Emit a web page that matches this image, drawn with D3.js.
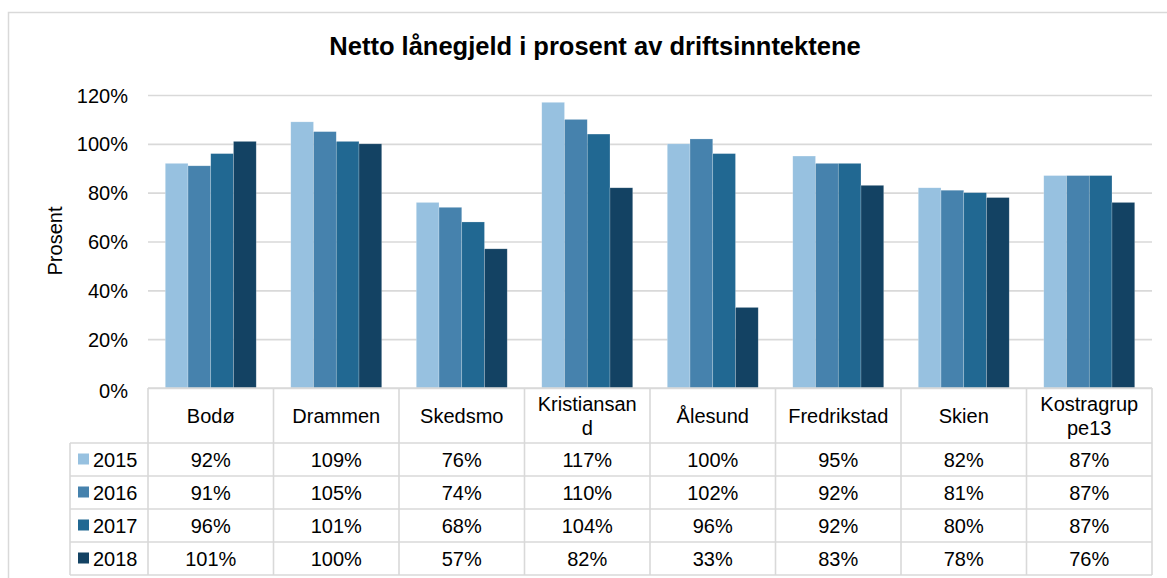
<!DOCTYPE html>
<html>
<head>
<meta charset="utf-8">
<script src="https://cdn.jsdelivr.net/npm/d3@7"></script>
<style>
    body { margin: 0; background: #fff; }
    text { font-family: "Liberation Sans", Arial, sans-serif; fill: #000; }
</style>
</head>
<body>
<div id="canvas"></div>
<script>
var categories = ['Bodø', 'Drammen', 'Skedsmo', 'Kristiansand', 'Ålesund', 'Fredrikstad', 'Skien', 'Kostragruppe13'];
var headerLines = [['Bodø'], ['Drammen'], ['Skedsmo'], ['Kristiansan', 'd'], ['Ålesund'], ['Fredrikstad'], ['Skien'], ['Kostragrup', 'pe13']];
var years = ['2015', '2016', '2017', '2018'];
var v2015 = [92, 109, 76, 117, 100, 95, 82, 87];
var v2016 = [91, 105, 74, 110, 102, 92, 81, 87];
var v2017 = [96, 101, 68, 104, 96, 92, 80, 87];
var v2018 = [101, 100, 57, 82, 33, 83, 78, 76];
var yTicks = [0, 20, 40, 60, 80, 100, 120];
var colors = ['#97c1e0', '#4682ad', '#216892', '#134263'];

var series = [v2015, v2016, v2017, v2018];
var width = 1167;
var height = 578;
var plotLeft = 148;
var plotRight = 1152;
var plotTop = 95;
var plotBottom = 388;
var legendLeft = 70;
var headerHeight = 55;
var rowHeight = 33;
var gridColor = '#d9d9d9';
var svg;

var x0 = d3.scaleBand().domain(categories).range([plotLeft, plotRight]);
var x1 = d3.scaleBand().domain(years).range([0, x0.bandwidth()]).paddingOuter(0.76);
var y = d3.scaleLinear().domain([0, 120]).range([plotBottom, plotTop]);

svg = d3.select('#canvas')
    .append('svg')
    .attr('width', width)
    .attr('height', height);

// outer chart frame (runs off the picture to the right and bottom)
svg.append('rect')
    .attr('x', 8.5)
    .attr('y', 12.5)
    .attr('width', width + 20)
    .attr('height', height + 20)
    .style('fill', 'white')
    .style('stroke', gridColor)
    .style('stroke-width', 1.5);

svg.append('text')
    .attr('x', 595)
    .attr('y', 55)
    .attr('text-anchor', 'middle')
    .style('font-size', '25.5px')
    .style('font-weight', 'bold')
    .text('Netto lånegjeld i prosent av driftsinntektene');

// gridlines and y labels
var yAxis = d3.axisLeft(y)
    .tickValues(yTicks)
    .tickSize(plotLeft - plotRight)
    .tickPadding(20)
    .tickFormat(function (d) { return d + '%'; });
var yg = svg.append('g')
    .attr('transform', 'translate(' + plotLeft + ',0)')
    .call(yAxis);
yg.select('.domain').remove();
yg.selectAll('.tick line')
    .attr('stroke', gridColor)
    .attr('stroke-width', 1.6);
yg.selectAll('.tick text')
    .attr('x', -20)
    .attr('dy', '0.35em')
    .style('font-family', '"Liberation Sans", Arial, sans-serif')
    .style('font-size', '20px');
yg.selectAll('.tick').filter(function (d) { return d === 0; }).select('text').attr('dy', '0.45em');

svg.append('text')
    .attr('transform', 'translate(62,241) rotate(-90)')
    .attr('text-anchor', 'middle')
    .style('font-size', '20px')
    .text('Prosent');

// bars
series.forEach(function (vals, s) {
    svg.append('g')
        .selectAll('rect')
        .data(vals)
        .enter()
        .append('rect')
        .attr('x', function (d, i) { return x0(categories[i]) + x1(years[s]); })
        .attr('y', function (d) { return y(d); })
        .attr('width', x1.bandwidth())
        .attr('height', function (d) { return y(0) - y(d); })
        .style('fill', colors[s])
        .style('stroke', 'rgba(255,255,255,0.35)')
        .style('stroke-width', 0.6);
});

// data table
var tableBottom = plotBottom + headerHeight + rowHeight * years.length;
var tbl = svg.append('g');

tbl.append('line')
    .attr('x1', plotLeft).attr('x2', plotRight)
    .attr('y1', plotBottom).attr('y2', plotBottom);
for (var r = 0; r <= years.length; r++) {
    tbl.append('line')
        .attr('x1', legendLeft).attr('x2', plotRight)
        .attr('y1', plotBottom + headerHeight + r * rowHeight)
        .attr('y2', plotBottom + headerHeight + r * rowHeight);
}
tbl.append('line')
    .attr('x1', legendLeft).attr('x2', legendLeft)
    .attr('y1', plotBottom + headerHeight).attr('y2', tableBottom);
categories.forEach(function (c) {
    tbl.append('line')
        .attr('x1', x0(c)).attr('x2', x0(c))
        .attr('y1', plotBottom).attr('y2', tableBottom);
});
tbl.append('line')
    .attr('x1', plotRight).attr('x2', plotRight)
    .attr('y1', plotBottom).attr('y2', tableBottom);
tbl.selectAll('line')
    .style('stroke', gridColor)
    .style('stroke-width', 1.6);

// header names
headerLines.forEach(function (lines, i) {
    var cx = x0(categories[i]) + x0.bandwidth() / 2;
    var cy = plotBottom + headerHeight / 2;
    lines.forEach(function (line, k) {
        tbl.append('text')
            .attr('x', cx)
            .attr('y', cy + (k - (lines.length - 1) / 2) * 24)
            .attr('dy', '0.35em')
            .attr('text-anchor', 'middle')
            .style('font-size', '20px')
            .text(line);
    });
});

// legend keys and values
years.forEach(function (yr, s) {
    var cy = plotBottom + headerHeight + s * rowHeight + rowHeight / 2;
    tbl.append('rect')
        .attr('x', 78)
        .attr('y', cy - 6)
        .attr('width', 11)
        .attr('height', 11)
        .style('fill', colors[s]);
    tbl.append('text')
        .attr('x', 93)
        .attr('y', cy)
        .attr('dy', '0.35em')
        .style('font-size', '20px')
        .text(yr);
    series[s].forEach(function (v, i) {
        tbl.append('text')
            .attr('x', x0(categories[i]) + x0.bandwidth() / 2)
            .attr('y', cy)
            .attr('dy', '0.35em')
            .attr('text-anchor', 'middle')
            .style('font-size', '20px')
            .text(v + '%');
    });
});
</script>
</body>
</html>
